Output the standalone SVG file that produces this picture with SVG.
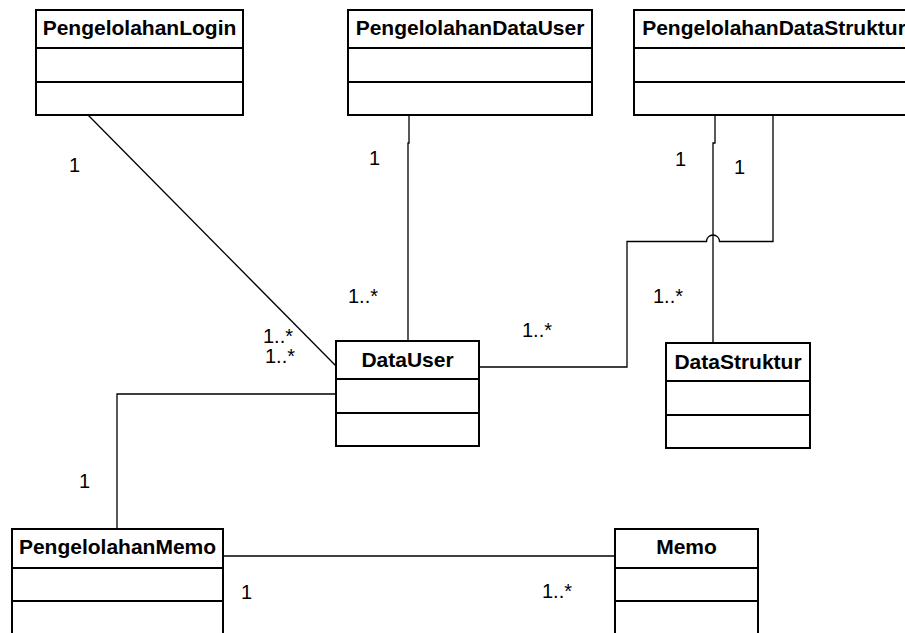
<svg xmlns="http://www.w3.org/2000/svg" width="905" height="633" viewBox="0 0 905 633">
<style>
.box{fill:#fff;stroke:#000;stroke-width:2}
.div{stroke:#000;stroke-width:2}
.title{font-family:"Liberation Sans",Arial,sans-serif;font-weight:bold;font-size:21px;text-anchor:middle;fill:#000}
.lbl{font-family:"Liberation Sans",Arial,sans-serif;font-size:20px;fill:#000}
.conn{fill:none;stroke:#000;stroke-width:1.3}
</style>
<rect width="905" height="633" fill="#fff"/>
<g id="connectors">
<path class="conn" d="M88,115 L336,366"/>
<path class="conn" d="M409,115 V143 H408 V341"/>
<path class="conn" d="M715,115 V143 H713 V343"/>
<path class="conn" d="M479,367 H627 V241.5 H706.5 A6.5,6.5 0 0 1 719.5,241.5 H773 V115"/>
<path class="conn" d="M336,394 H117 V529"/>
<path class="conn" d="M223,556 H615"/>
</g>
<g id="labels">
<text class="lbl" x="69" y="172">1</text>
<text class="lbl" x="263" y="343">1..*</text>
<text class="lbl" x="265" y="363">1..*</text>
<text class="lbl" x="369" y="165">1</text>
<text class="lbl" x="348" y="303">1..*</text>
<text class="lbl" x="522" y="337">1..*</text>
<text class="lbl" x="675" y="166">1</text>
<text class="lbl" x="734" y="174">1</text>
<text class="lbl" x="653" y="303">1..*</text>
<text class="lbl" x="79" y="488">1</text>
<text class="lbl" x="241" y="599">1</text>
<text class="lbl" x="542" y="598">1..*</text>
</g>
<g id="PengelolahanLogin">
<rect class="box" x="36" y="10" width="207" height="105"/>
<line class="div" x1="36" y1="48" x2="243" y2="48"/>
<line class="div" x1="36" y1="82" x2="243" y2="82"/>
<text class="title" x="139.5" y="35">PengelolahanLogin</text>
</g>
<g id="PengelolahanDataUser">
<rect class="box" x="348" y="10" width="244" height="105"/>
<line class="div" x1="348" y1="48" x2="592" y2="48"/>
<line class="div" x1="348" y1="82" x2="592" y2="82"/>
<text class="title" x="470" y="35">PengelolahanDataUser</text>
</g>
<g id="PengelolahanDataStruktur">
<rect class="box" x="634" y="10" width="280" height="105"/>
<line class="div" x1="634" y1="48" x2="914" y2="48"/>
<line class="div" x1="634" y1="82" x2="914" y2="82"/>
<text class="title" x="774" y="35">PengelolahanDataStruktur</text>
</g>
<g id="DataUser">
<rect class="box" x="336" y="341" width="143" height="105"/>
<line class="div" x1="336" y1="379" x2="479" y2="379"/>
<line class="div" x1="336" y1="413" x2="479" y2="413"/>
<text class="title" x="407.5" y="367">DataUser</text>
</g>
<g id="DataStruktur">
<rect class="box" x="666" y="343" width="144" height="105"/>
<line class="div" x1="666" y1="381" x2="810" y2="381"/>
<line class="div" x1="666" y1="415" x2="810" y2="415"/>
<text class="title" x="738" y="369">DataStruktur</text>
</g>
<g id="PengelolahanMemo">
<rect class="box" x="12" y="529" width="211" height="120"/>
<line class="div" x1="12" y1="568" x2="223" y2="568"/>
<line class="div" x1="12" y1="601" x2="223" y2="601"/>
<text class="title" x="117.5" y="554">PengelolahanMemo</text>
</g>
<g id="Memo">
<rect class="box" x="615" y="529" width="143" height="120"/>
<line class="div" x1="615" y1="568" x2="758" y2="568"/>
<line class="div" x1="615" y1="601" x2="758" y2="601"/>
<text class="title" x="686.5" y="554">Memo</text>
</g>
</svg>
